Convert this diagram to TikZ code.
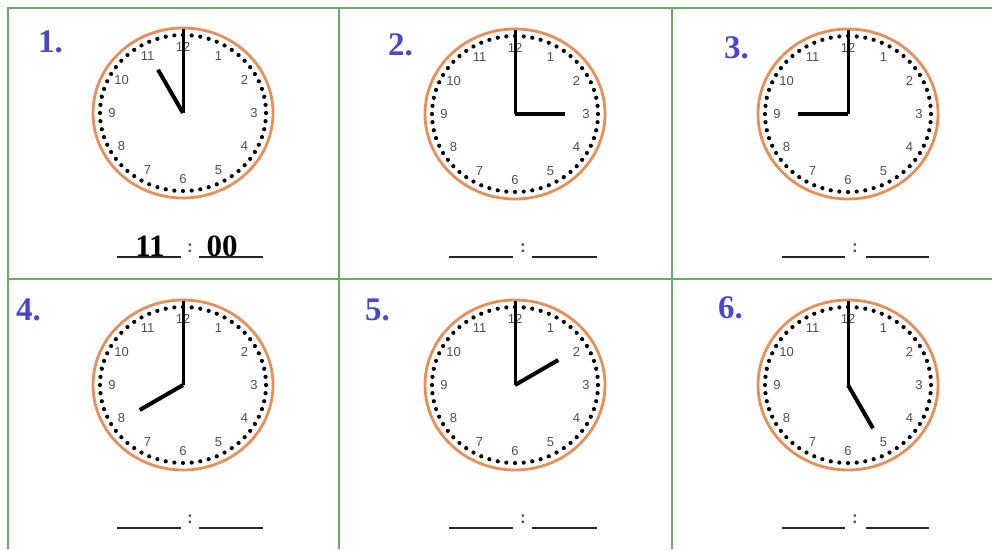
\documentclass[tikz,border=0pt]{standalone}
\usepackage{fontspec}
\setmainfont{Liberation Serif}
\newfontfamily\dialfont{Liberation Sans}
\definecolor{cellgreen}{RGB}{105,170,105}
\definecolor{dialorange}{RGB}{232,142,88}
\definecolor{labelblue}{RGB}{72,72,205}
\definecolor{numgray}{RGB}{80,80,80}

\begin{document}
\begin{tikzpicture}[x=1pt, y=-1pt,
    cell/.style={draw=cellgreen, line width=1.4pt},
    number/.style={text=labelblue, font=\fontsize{33}{33}\selectfont\bfseries, inner sep=0pt, anchor=base west},
    dialnum/.style={text=numgray, font=\dialfont\fontsize{13}{13}\selectfont, inner sep=0pt},
    hourhand/.style={draw, line width=4pt},
    minhand/.style={draw, line width=3pt},
    blank/.style={draw=black!85, line width=2.4pt},
    colon/.style={text=numgray, font=\dialfont\bfseries\fontsize{17}{17}\selectfont, inner sep=0pt},
    answer/.style={font=\fontsize{31}{31}\selectfont\bfseries, inner sep=0pt, anchor=base},
    clockface/.pic={
        \draw[dialorange, line width=2.8pt] (0,0) ellipse [x radius=90, y radius=85];
        \foreach \m in {0,...,59}
            \fill ({\m*6}:83 and 78) circle (2.1);
        \foreach \h in {1,...,12}
            \node[dialnum] at ({\h*30-90}:71 and 66) {\h};
    }]

    \useasboundingbox (0,0) rectangle (992,549);

    % Grid
    \draw[cell] (8,549) -- (8,8) -- (992,8);
    \draw[cell] (339,8) -- (339,549);
    \draw[cell] (672,8) -- (672,549);
    \draw[cell] (8,279) -- (992,279);

    % Clocks
    \coordinate (c1) at (183,113);
    \coordinate (c2) at (515,114);
    \coordinate (c3) at (848,114);
    \coordinate (c4) at (183,385);
    \coordinate (c5) at (515,385);
    \coordinate (c6) at (848,385);
    \pic at (c1) {clockface};
    \pic at (c2) {clockface};
    \pic at (c3) {clockface};
    \pic at (c4) {clockface};
    \pic at (c5) {clockface};
    \pic at (c6) {clockface};

    % Hands
    \draw[minhand] (c1) -- ++(-90:84);
    \draw[hourhand] (c1) -- ++(240:50);
    \draw[minhand] (c2) -- ++(-90:84);
    \draw[hourhand] (c2) -- ++(0:50);
    \draw[minhand] (c3) -- ++(-90:84);
    \draw[hourhand] (c3) -- ++(180:50);
    \draw[minhand] (c4) -- ++(-90:84);
    \draw[hourhand] (c4) -- ++(150:50);
    \draw[minhand] (c5) -- ++(-90:84);
    \draw[hourhand] (c5) -- ++(-30:50);
    \draw[minhand] (c6) -- ++(-90:84);
    \draw[hourhand] (c6) -- ++(60:50);

    % Numbers
    \node[number] (l1) at (38,52) {1.};
    \node[number] (l2) at (388,55) {2.};
    \node[number] (l3) at (724,58) {3.};
    \node[number] (l4) at (16,320) {4.};
    \node[number] (l5) at (365,320) {5.};
    \node[number] (l6) at (718,318) {6.};

    % Answers
    \node[answer] (h1) at (150,256) {11};
    \node[answer] (m1) at (222,256) {00};
    \node[colon] (k1) at (190,248) {:};
    \node[colon] (k2) at (523,248) {:};
    \node[colon] (k3) at (855,248) {:};
    \node[colon] (k4) at (190,519) {:};
    \node[colon] (k5) at (523,519) {:};
    \node[colon] (k6) at (855,519) {:};
    \draw[blank] (117,257) -- (181,257) (199,257) -- (263,257);
    \draw[blank] (449,257) -- (513,257) (532,257) -- (597,257);
    \draw[blank] (782,257) -- (845,257) (866,257) -- (929,257);
    \draw[blank] (117,528) -- (181,528) (199,528) -- (263,528);
    \draw[blank] (449,528) -- (513,528) (532,528) -- (597,528);
    \draw[blank] (782,528) -- (845,528) (866,528) -- (929,528);

\end{tikzpicture}
\end{document}
